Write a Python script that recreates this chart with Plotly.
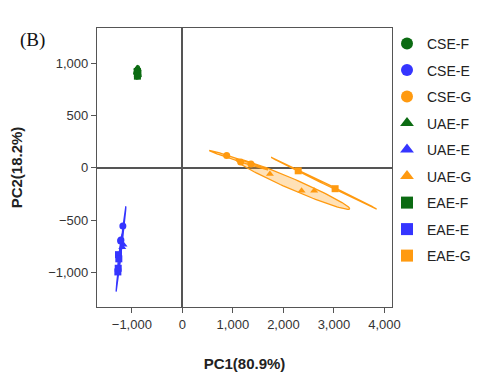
import numpy as np
import plotly.graph_objects as go

# ---- data ----
groups = ["CSE-F", "CSE-E", "CSE-G", "UAE-F", "UAE-E", "UAE-G", "EAE-F", "EAE-E", "EAE-G"]
colors_by_suffix = {"F": "#0b6b12", "E": "#3535ff", "G": "#ff9a10"}
symbols_by_prefix = {"CSE": "circle", "UAE": "triangle-up", "EAE": "square"}

pc1 = {
    "CSE-F": [-885, -900, -880],
    "CSE-E": [-1178, -1217, -1222],
    "CSE-G": [877, 1154, 1358],
    "UAE-F": [-890, -900, -885],
    "UAE-E": [-1166, -1190],
    "UAE-G": [1733, 2360, 2609],
    "EAE-F": [-895, -880, -890],
    "EAE-E": [-1265, -1258, -1277, -1270],
    "EAE-G": [2293, 3024],
}
pc2 = {
    "CSE-F": [930, 905, 880],
    "CSE-E": [-556, -690, -700],
    "CSE-G": [117, 54, 35],
    "UAE-F": [950, 915, 885],
    "UAE-E": [-735, -760],
    "UAE-G": [-60, -219, -219],
    "EAE-F": [920, 900, 875],
    "EAE-E": [-830, -870, -995, -960],
    "EAE-G": [-29, -200],
}

# ellipse params: centre (x, y), major half-vector (dx, dy), minor half-vector (mx, my)
ell_center_x = {"CSE-F": -892, "CSE-E": -1215, "CSE-G": 1114, "UAE-G": 2188, "EAE-E": -1235, "EAE-G": 2806}
ell_center_y = {"CSE-F": 912, "CSE-E": -776, "CSE-G": 73, "UAE-G": -158, "EAE-E": -820, "EAE-G": -148}
ell_major_dx = {"CSE-F": 8, "CSE-E": 96, "CSE-G": 580, "UAE-G": 1126, "EAE-E": 45, "EAE-G": 1039}
ell_major_dy = {"CSE-F": 65, "CSE-E": 407, "CSE-G": -92, "UAE-G": -234, "EAE-E": 190, "EAE-G": -246}
ell_minor_dx = {"CSE-F": 55, "CSE-E": 12, "CSE-G": 0, "UAE-G": 0, "EAE-E": 20, "EAE-G": 0}
ell_minor_dy = {"CSE-F": 0, "CSE-E": 0, "CSE-G": 12, "UAE-G": 55, "EAE-E": 0, "EAE-G": 8}

x_ticks = [-1000, 0, 1000, 2000, 3000, 4000]
y_ticks = [-1000, -500, 0, 500, 1000]

fig = go.Figure()

t = np.linspace(0, 2 * np.pi, 120)
for g in ell_center_x:
    col = colors_by_suffix[g.split("-")[1]]
    ex = ell_center_x[g] + np.cos(t) * ell_major_dx[g] + np.sin(t) * ell_minor_dx[g]
    ey = ell_center_y[g] + np.cos(t) * ell_major_dy[g] + np.sin(t) * ell_minor_dy[g]
    r, gg, b = int(col[1:3], 16), int(col[3:5], 16), int(col[5:7], 16)
    fig.add_trace(go.Scatter(
        x=ex, y=ey, mode="lines", fill="toself",
        fillcolor=f"rgba({r},{gg},{b},0.3)",
        line=dict(color=col, width=1.3),
        showlegend=False, hoverinfo="skip"))

for g in groups:
    pre, suf = g.split("-")
    fig.add_trace(go.Scatter(
        x=pc1[g], y=pc2[g], mode="markers", name=g, legendgroup=g,
        marker=dict(color=colors_by_suffix[suf], symbol=symbols_by_prefix[pre], size=7,
                    line=dict(width=0))))

FONT = "Liberation Sans, Arial"
axis_common = dict(
    showgrid=False, zeroline=True, zerolinecolor="#555555", zerolinewidth=1.5,
    showline=True, linecolor="#555555", linewidth=1.2, mirror=True,
    ticks="outside", ticklen=5, tickcolor="#555555", tickformat=",d",
    tickfont=dict(family=FONT, size=13, color="#333333"),
    automargin=False,
)

L, R, T, B = 89, 100, 20, 86
PW = 484 - L - R
PH = 385 - T - B

fig.update_layout(
    width=484, height=385,
    margin=dict(l=L, r=R, t=T, b=B),
    paper_bgcolor="white", plot_bgcolor="white",
    xaxis=dict(range=[-1690, 4150], tickvals=x_ticks,
               title=dict(text="<b>PC1(80.9%)</b>", standoff=27,
                          font=dict(family=FONT, size=15, color="#222222")),
               **axis_common),
    yaxis=dict(range=[-1330, 1335], tickvals=y_ticks,
               title=dict(text="<b>PC2(18.2%)</b>", standoff=28,
                          font=dict(family=FONT, size=15, color="#222222")),
               **axis_common),
    legend=dict(x=1 - 5 / PW, y=1.0, xanchor="left", yanchor="top",
                font=dict(family=FONT, size=14, color="#222222"),
                tracegroupgap=5.3, itemsizing="constant", bgcolor="rgba(0,0,0,0)",
                maxheight=400),
)
fig.add_annotation(text="(B)", xref="paper", yref="paper",
                   x=(24 - L) / PW, y=1 - (32 - T) / PH,
                   xanchor="center", yanchor="middle", showarrow=False,
                   font=dict(family="Liberation Serif, Times New Roman", size=19, color="#111111"))

fig.write_html("out.html")
